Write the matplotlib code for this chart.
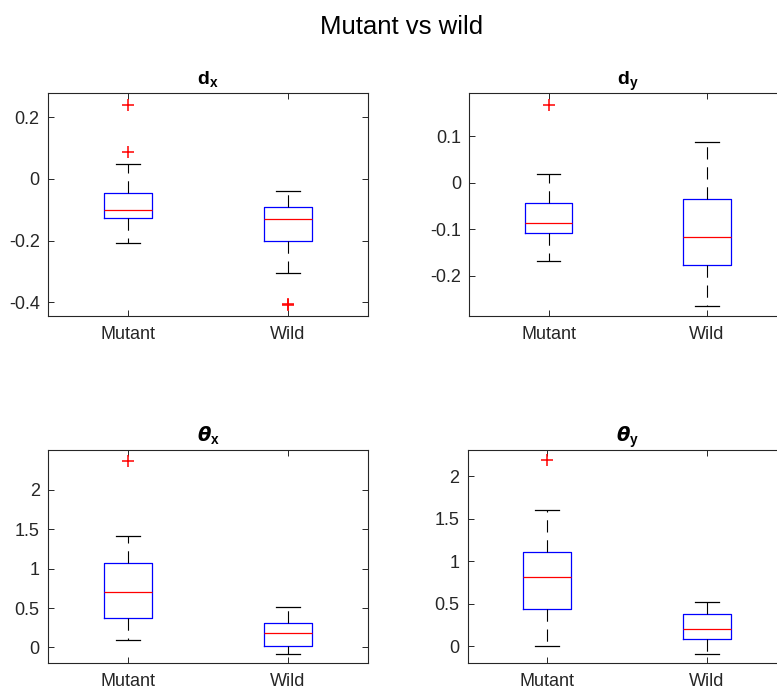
import matplotlib
matplotlib.use("Agg")
import matplotlib.pyplot as plt

plt.rcParams["font.family"] = ["Liberation Sans", "DejaVu Sans"]
plt.rcParams["mathtext.fontset"] = "custom"
plt.rcParams["mathtext.rm"] = "Liberation Sans"
plt.rcParams["mathtext.bf"] = "Liberation Sans:bold"
plt.rcParams["mathtext.it"] = "DejaVu Sans:italic:bold"

GROUPS = ["Mutant", "Wild"]

# (lower whisker, Q1, median, Q3, upper whisker), outliers per group
DX_STATS = [(-0.209, -0.126, -0.101, -0.047, 0.047), (-0.305, -0.201, -0.129, -0.090, -0.039)]
DX_FLIERS = [[0.24, 0.088], [-0.405, -0.409]]
DY_STATS = [(-0.168, -0.109, -0.0876, -0.043, 0.0187), (-0.265, -0.177, -0.117, -0.036, 0.0877)]
DY_FLIERS = [[0.167], []]
TX_STATS = [(0.093, 0.368, 0.707, 1.075, 1.413), (-0.08, 0.021, 0.182, 0.313, 0.511)]
TX_FLIERS = [[2.364], []]
TY_STATS = [(0.007, 0.442, 0.815, 1.113, 1.60), (-0.087, 0.082, 0.204, 0.384, 0.521)]
TY_FLIERS = [[2.188], []]

PANELS = [
    (r"$\mathbf{d}_\mathbf{x}$", DX_STATS, DX_FLIERS, (-0.444, 0.278), [-0.4, -0.2, 0, 0.2],
     [0.0618, 0.542, 0.4118, 0.3232]),
    (r"$\mathbf{d}_\mathbf{y}$", DY_STATS, DY_FLIERS, (-0.287, 0.1925), [-0.2, -0.1, 0, 0.1],
     [0.604, 0.542, 0.408, 0.3232]),
    (r"$\theta_\mathbf{x}$", TX_STATS, TX_FLIERS, (-0.2, 2.5), [0, 0.5, 1, 1.5, 2],
     [0.0618, 0.0387, 0.4118, 0.3091]),
    (r"$\theta_\mathbf{y}$", TY_STATS, TY_FLIERS, (-0.2, 2.31), [0, 0.5, 1, 1.5, 2],
     [0.6017, 0.0387, 0.4106, 0.3091]),
]

fig = plt.figure(figsize=(7.77, 6.9), dpi=100)
fig.text(0.5167, 0.9503, "Mutant vs wild", fontsize=18.5, ha="center", va="baseline")

dark = (0.15, 0.15, 0.15)

for title, stats, fliers, ylim, yticks, pos in PANELS:
    ax = fig.add_axes(pos)
    bxp_stats = []
    for name, (lo, q1, med, q3, hi), fl in zip(GROUPS, stats, fliers):
        bxp_stats.append({"label": name, "whislo": lo, "q1": q1, "med": med,
                          "q3": q3, "whishi": hi, "fliers": fl})
    ax.bxp(bxp_stats, positions=[1, 2], widths=0.3, showfliers=True,
           boxprops=dict(color="blue", linewidth=0.9),
           medianprops=dict(color="red", linewidth=0.9),
           whiskerprops=dict(color="black", linewidth=0.8, linestyle=(0, (11, 7))),
           capprops=dict(color="black", linewidth=0.9),
           capwidths=0.15,
           flierprops=dict(marker="+", markeredgecolor="red", markersize=9,
                           markeredgewidth=1.1, linestyle="none"))
    ax.set_xlim(0.5, 2.5)
    ax.set_ylim(*ylim)
    ax.set_yticks(yticks)
    ax.set_yticklabels([f"{v:g}" for v in yticks])
    ax.set_title(title, fontsize=14, fontweight="bold", color="black", pad=6)
    ax.tick_params(direction="in", top=True, right=True, labelsize=13,
                   colors=dark, length=4, width=0.7)
    ax.tick_params(axis="x", pad=7)
    ax.tick_params(axis="y", pad=6)
    for sp in ax.spines.values():
        sp.set_color(dark)
        sp.set_linewidth(0.8)

fig.savefig("out.png", dpi=100)
